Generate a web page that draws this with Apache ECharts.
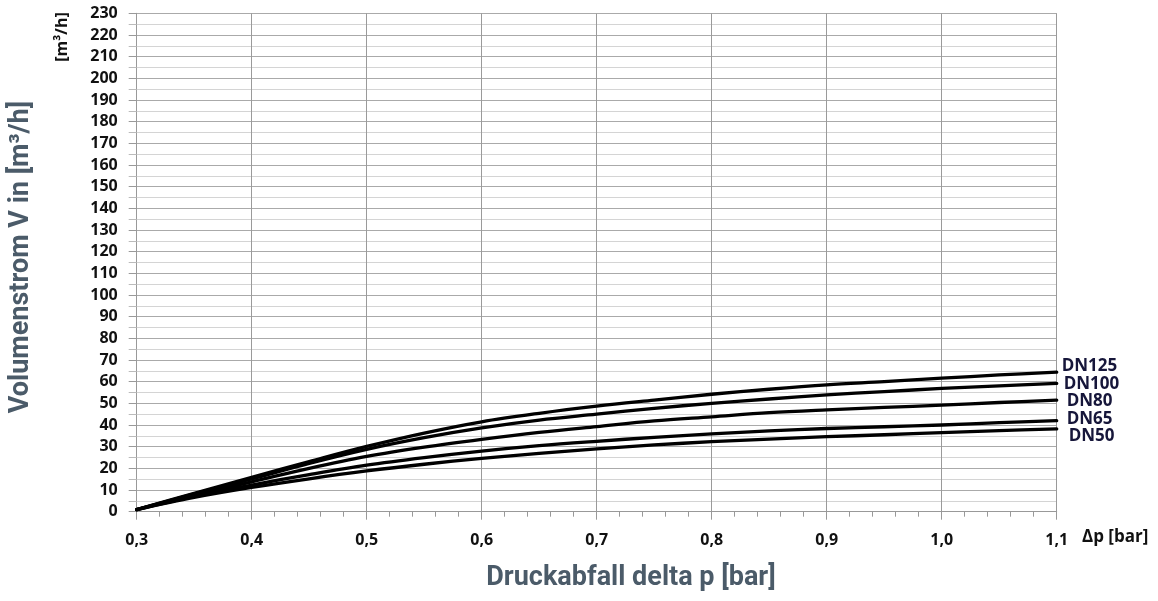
<!DOCTYPE html>
<html>
<head>
<meta charset="utf-8">
<script src="https://cdn.jsdelivr.net/npm/echarts@6/dist/echarts.min.js"></script>
<style>
html,body{margin:0;padding:0;background:#fff;}
#c{width:1158px;height:601px;}
</style>
</head>
<body>
<div id="c"></div>
<script>
var xValues = [0.3, 0.35, 0.4, 0.45, 0.5, 0.55, 0.6, 0.65, 0.7, 0.75, 0.8, 0.85, 0.9, 0.95, 1.0, 1.05, 1.1];
var seriesNames = ['DN125', 'DN100', 'DN80', 'DN65', 'DN50'];
var dn125 = [1, 8.5, 15.9, 23.1, 30.1, 36.3, 41.5, 45.4, 48.7, 51.5, 54.2, 56.5, 58.5, 60, 61.6, 63.1, 64.4];
var dn100 = [1, 8.2, 15.1, 22.3, 28.8, 34.2, 38.7, 42.3, 45, 47.7, 50, 52, 53.9, 55.4, 56.9, 58.1, 59.2];
var dn80  = [1, 7.8, 13.8, 20, 25.5, 29.8, 33.4, 36.6, 39.3, 41.9, 43.8, 45.7, 47, 48.1, 49.2, 50.4, 51.5];
var dn65  = [1, 7.1, 12.3, 17.1, 21.5, 25, 28, 30.5, 32.5, 34.3, 35.9, 37.3, 38.4, 39.2, 40, 41.1, 42];
var dn50  = [1, 6.6, 11.2, 15.2, 18.8, 21.9, 24.6, 26.9, 29, 30.8, 32.3, 33.5, 34.6, 35.5, 36.5, 37.4, 38.2];
var seriesValues = [dn125, dn100, dn80, dn65, dn50];
var labelOffsets = [[0, -6], [2, 1], [5, 1], [5, -2], [7, 7]];

var chart = echarts.init(document.getElementById('c'));
var font = '"Open Sans", "Noto Sans", sans-serif';
var titleFont = 'Roboto, "Noto Sans", sans-serif';

var series = seriesNames.map(function (name, i) {
  return {
    name: name,
    type: 'line',
    smooth: 0.35,
    symbol: 'none',
    data: xValues.map(function (x, j) { return [x, seriesValues[i][j]]; }),
    lineStyle: { color: '#000', width: 3.3, cap: 'round', join: 'round' },
    endLabel: {
      show: true,
      formatter: '{a}',
      distance: 5,
      offset: labelOffsets[i],
      color: '#16163a',
      fontFamily: font,
      fontWeight: 'bold',
      fontSize: 17
    },
    z: 5
  };
});

chart.setOption({
  animation: false,
  backgroundColor: '#fff',
  grid: { left: 136.7, right: 101.3, top: 13.3, bottom: 89.3 },
  xAxis: {
    type: 'value',
    min: 0.3, max: 1.1, interval: 0.1,
    axisLine: { show: true, lineStyle: { color: '#999', width: 1 } },
    axisTick: { show: true, length: 8, lineStyle: { color: '#999' } },
    minorTick: { show: true, splitNumber: 5, length: 5, lineStyle: { color: '#999' } },
    splitLine: { show: true, lineStyle: { color: '#9a9a9a', width: 1 } },
    axisLabel: {
      margin: 21,
      color: '#111',
      fontFamily: font,
      fontWeight: 'bold',
      fontSize: 16,
      formatter: function (v) { return v.toFixed(1).replace('.', ','); }
    }
  },
  yAxis: {
    type: 'value',
    min: 0, max: 230, interval: 10,
    axisLine: { show: true, lineStyle: { color: '#999', width: 1 } },
    axisTick: { show: true, length: 8, lineStyle: { color: '#999' } },
    minorTick: { show: true, splitNumber: 2, length: 8, lineStyle: { color: '#bbb' } },
    splitLine: { show: true, lineStyle: { color: '#aaaaaa', width: 1 } },
    minorSplitLine: { show: true, lineStyle: { color: '#d4d4d4', width: 1 } },
    axisLabel: {
      margin: 19,
      color: '#111',
      fontFamily: font,
      fontWeight: 'bold',
      fontSize: 16
    }
  },
  graphic: [
    {
      type: 'text', x: 1082, y: 537,
      style: { text: 'Δp [bar]', fill: '#111', font: 'bold 17px ' + font, textAlign: 'left', textVerticalAlign: 'middle' }
    },
    {
      type: 'text', x: 62, y: 37, rotation: Math.PI / 2,
      style: { text: '[m³/h]', fill: '#111', font: 'bold 16px ' + font, textAlign: 'center', textVerticalAlign: 'middle' }
    },
    {
      type: 'text', x: 21, y: 257, rotation: Math.PI / 2,
      style: { text: 'Volumenstrom V in [m³/h]', fill: '#4b5b69', font: 'bold 27px ' + titleFont, textAlign: 'center', textVerticalAlign: 'middle' }
    },
    {
      type: 'text', x: 631, y: 578,
      style: { text: 'Druckabfall delta p [bar]', fill: '#4b5b69', font: 'bold 27px ' + titleFont, textAlign: 'center', textVerticalAlign: 'middle' }
    }
  ],
  series: series
});
</script>
</body>
</html>
